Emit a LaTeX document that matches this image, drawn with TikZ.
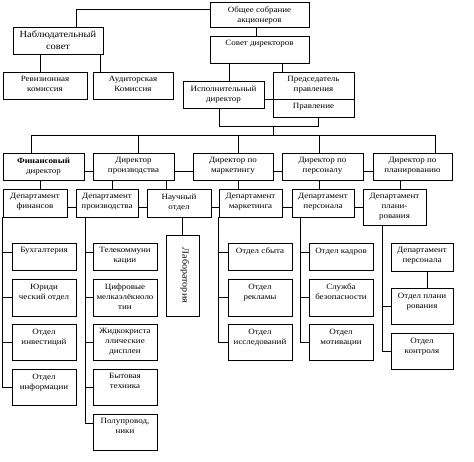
\documentclass[tikz,border=0pt]{standalone}
\usepackage{fontspec}
\setmainfont{Liberation Serif}[FakeStretch=1.12]
\newcommand\mybox[6]{%
  \node[bx, minimum width={(#4-#2)*1pt}, minimum height={(#5-#3)*1pt}] (#1) at ({(#2+#4)/2},{(#3+#5)/2}) {};
  \node[lbl] (#1t) at ({(#2+#4)/2},{#3+4.5}) {#6};}
\begin{document}
\begin{tikzpicture}[x=1pt,y=-1pt,
  bx/.style={draw, line width=0.9pt, inner sep=0pt, rectangle},
  lbl/.style={anchor=north, inner sep=0pt, align=center, font=\fontsize{8}{10}\selectfont},
  big/.style={font=\fontsize{9.3}{12}\selectfont},
  ln/.style={line width=0.9pt}]
\useasboundingbox (0,0) rectangle (474,461);
% top
\mybox{obs}{210}{2}{309}{27}{Общее собрание\\акционеров}
\node[bx, minimum width=90pt, minimum height=27pt] (nab) at (58,40.5) {};
\node[lbl, big] (nabt) at (58,31) {Наблюдательный\\совет};
\mybox{rev}{3}{72}{87}{99}{Ревизионная\\комиссия}
\mybox{aud}{93}{72}{173}{99}{Аудиторская\\Комиссия}
\mybox{sd}{210}{36}{309}{63}{Совет директоров}
\mybox{isp}{183}{81}{264}{108}{Исполнительный\\директор}
\mybox{pred}{273}{72}{354}{99}{Председатель\\правления}
\mybox{prav}{273}{99}{354}{117}{Правление}
% directors
\mybox{d1}{3}{153}{84}{180}{\textbf{Финансовый}\\директор}
\mybox{d2}{93}{153}{174}{180}{Директор\\производства}
\mybox{d3}{193}{153}{273}{180}{Директор по\\маркетингу}
\mybox{d4}{282}{153}{363}{180}{Директор по\\персоналу}
\mybox{d5}{373}{153}{452}{180}{Директор по\\планированию}
% departments
\mybox{p1}{3}{189}{67}{217}{Департамент\\финансов}
\mybox{p2}{76}{189}{138}{217}{Департамент\\производства}
\mybox{p3}{147}{189}{211}{217}{Научный\\отдел}
\mybox{p4}{219}{189}{282}{217}{Департамент\\маркетинга}
\mybox{p5}{292}{189}{354}{217}{Департамент\\персонала}
\mybox{p6}{363}{189}{426}{225}{Департамент\\плани-\\рования}
% column 1
\mybox{a1}{12}{243}{76}{270}{Бухгалтерия}
\mybox{a2}{12}{279}{76}{316}{Юриди\\ческий отдел}
\mybox{a3}{12}{324}{76}{360}{Отдел\\инвестиций}
\mybox{a4}{12}{369}{76}{405}{Отдел\\информации}
% column 2
\mybox{b1}{93}{243}{157}{270}{Телекоммуни\\кации}
\mybox{b2}{93}{279}{157}{316}{Цифровые\\мелкаэлёкноло\\тии}
\mybox{b3}{93}{324}{157}{360}{Жидкокриста\\ллические\\дисплеи}
\mybox{b4}{93}{369}{157}{405}{Бытовая\\техника}
\mybox{b5}{93}{414}{157}{450}{Полупровод,\\ники}
% lab
\node[bx, minimum width=33pt, minimum height=81pt] (lab) at (182.5,275.5) {};
\node[inner sep=0pt, rotate=-90, font=\fontsize{9}{11}\selectfont] (labt) at (185,275.5) {Лаборатория};
% marketing
\mybox{c1}{228}{243}{292}{270}{Отдел сбыта}
\mybox{c2}{228}{279}{292}{316}{Отдел\\рекламы}
\mybox{c3}{228}{324}{292}{360}{Отдел\\исследований}
% personnel
\mybox{e1}{309}{243}{373}{270}{Отдел кадров}
\mybox{e2}{309}{279}{373}{316}{Служба\\безопасности}
\mybox{e3}{309}{324}{373}{360}{Отдел\\мотивации}
% planning
\mybox{f1}{391}{243}{453}{271}{Департамент\\персонала}
\mybox{f2}{391}{288}{453}{324}{Отдел плани\\рования}
\mybox{f3}{391}{333}{453}{369}{Отдел\\контроля}

% upper connectors
\draw[ln] (obs.west |- 0,9) -| (nab.north -| 76,0);
\draw[ln] (nab.south -| 40,0) -- (rev.north -| 40,0);
\draw[ln] (nab.south -| 100,0) -- (aud.north -| 100,0);
\draw[ln] (obs.south -| 256,0) -- (sd.north -| 256,0);
\draw[ln] (sd.south -| 282,0) -- (pred.north -| 282,0);
\draw[ln] (sd.south -| 229,0) -- (isp.north -| 229,0);
\draw[ln] (isp.east |- pred.south) -- (pred.south west);
\coordinate (j1) at (219,126);
\coordinate (j2) at (273,126);
\coordinate (bus) at (273,135);
\draw[ln] (isp.south -| j1) -- (j1) -| (prav.south -| 318,0);
\draw[ln] (j2) -- (bus);
\draw[ln] (d1.north -| 31,0) -- (bus -| 31,0) -- (bus -| 435,0) -- (d5.north -| 435,0);
\draw[ln] (bus -| 138,0) -- (d2.north -| 138,0);
\draw[ln] (bus -| 238,0) -- (d3.north -| 238,0);
\draw[ln] (bus -| 319,0) -- (d4.north -| 319,0);
% director links
\draw[ln] (d1.east |- 0,171) -- (d2.west |- 0,171);
\draw[ln] (d2.east |- 0,171) -- (d3.west |- 0,171);
\draw[ln] (d3.east |- 0,171) -- (d4.west |- 0,171);
\draw[ln] (d4.east |- 0,171) -- (d5.west |- 0,171);
% director to department
\draw[ln] (d1.south -| 40,0) -- (p1.north -| 40,0);
\draw[ln] (d2.south -| 112,0) -- (p2.north -| 112,0);
\draw[ln] (d2.south -| 166,0) -- (p3.north -| 166,0);
\draw[ln] (d3.south -| 238,0) -- (p4.north -| 238,0);
\draw[ln] (d4.south -| 319,0) -- (p5.north -| 319,0);
\draw[ln] (d5.south -| 400,0) -- (p6.north -| 400,0);
% department links
\draw[ln] (p1.east |- 0,207) -- (p2.west |- 0,207);
\draw[ln] (p2.east |- 0,207) -- (p3.west |- 0,207);
\draw[ln] (p3.east |- 0,207) -- (p4.west |- 0,207);
\draw[ln] (p4.east |- 0,207) -- (p5.west |- 0,207);
\draw[ln] (p5.east |- 0,207) -- (p6.west |- 0,207);
% column 1 bus
\draw[ln] (p1.south west) |- (a4.west);
\draw[ln] (p1.south west |- 0,252) -- (a1.west |- 0,252);
\draw[ln] (p1.south west |- a2.west) -- (a2.west);
\draw[ln] (p1.south west |- a3.west) -- (a3.west);
% column 2 bus
\coordinate (bb) at (85,217);
\draw[ln] (bb) |- (b5.west |- 0,423);
\draw[ln] (bb |- 0,252) -- (b1.west |- 0,252);
\draw[ln] (bb |- b2.west) -- (b2.west);
\draw[ln] (bb |- b3.west) -- (b3.west);
\draw[ln] (bb |- b4.west) -- (b4.west);
% lab
\draw[ln] (p3.south -| lab.north) -- (lab.north);
% marketing bus
\draw[ln] (p4.south west) |- (c3.west);
\draw[ln] (p4.south west |- 0,252) -- (c1.west |- 0,252);
\draw[ln] (p4.south west |- c2.west) -- (c2.west);
% personnel bus
\coordinate (eb) at (300,217);
\draw[ln] (eb) |- (e3.west);
\draw[ln] (eb |- 0,252) -- (e1.west |- 0,252);
\draw[ln] (eb |- e2.west) -- (e2.west);
% planning
\coordinate (fb) at (382,225);
\draw[ln] (fb) |- (f3.west);
\draw[ln] (fb |- f2.west) -- (f2.west);
\draw[ln] (f1.south -| 427,0) -- (f2.north -| 427,0);
\end{tikzpicture}
\end{document}
